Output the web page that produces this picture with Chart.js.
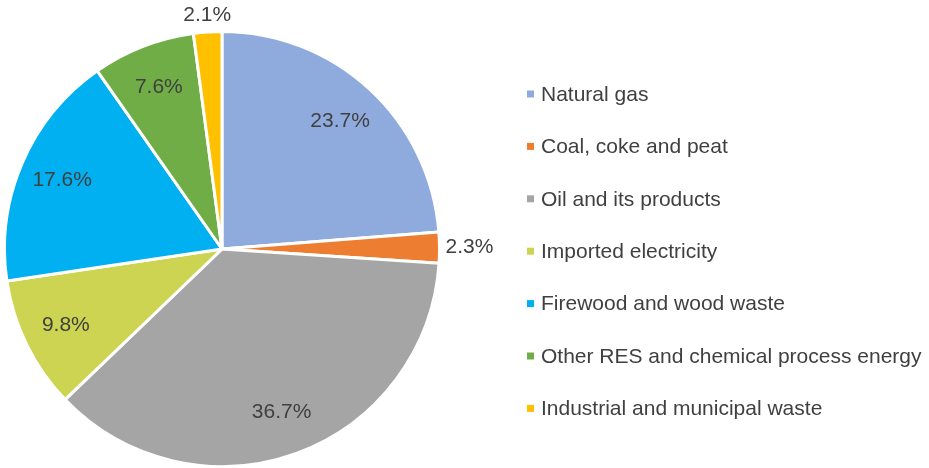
<!DOCTYPE html>
<html>
<head>
<meta charset="utf-8">
<script src="https://cdn.jsdelivr.net/npm/chart.js@4.4.1/dist/chart.umd.min.js"></script>
<style>
  html, body { margin: 0; padding: 0; background: #fff; }
  #wrap { width: 929px; height: 468px; position: relative; }
</style>
</head>
<body>
<div id="wrap"><canvas id="chart" width="929" height="468"></canvas></div>
<script>
// Energy consumption by source, share in percent
const categories = [
  'Natural gas',
  'Coal, coke and peat',
  'Oil and its products',
  'Imported electricity',
  'Firewood and wood waste',
  'Other RES and chemical process energy',
  'Industrial and municipal waste'
];
const shares = [23.7, 2.3, 36.7, 9.8, 17.6, 7.6, 2.1];
const colors = ['#8FAADC', '#ED7D31', '#A5A5A5', '#CDD451', '#00B0F0', '#70AD47', '#FFC000'];

const FONT = '"Liberation Sans", Arial, sans-serif';
const TEXT_COLOR = '#404040';

// slice labels: inside for big slices, outside for the thin ones
const sliceLabels = {
  id: 'sliceLabels',
  afterDatasetsDraw(chart) {
    const ctx = chart.ctx;
    const meta = chart.getDatasetMeta(0);
    ctx.save();
    ctx.font = '21px ' + FONT;
    ctx.fillStyle = TEXT_COLOR;
    meta.data.forEach((arc, i) => {
      const mid = (arc.startAngle + arc.endAngle) / 2;
      const cos = Math.cos(mid), sin = Math.sin(mid);
      const text = shares[i].toFixed(1) + '%';
      if (shares[i] >= 5) {
        const r = arc.outerRadius * 0.8;
        ctx.textAlign = 'center';
        ctx.textBaseline = 'middle';
        ctx.fillText(text, arc.x + cos * r, arc.y + sin * r);
      } else {
        const r = arc.outerRadius + 6;
        const px = arc.x + cos * r, py = arc.y + sin * r;
        if (Math.abs(cos) > 0.5) {
          ctx.textAlign = cos > 0 ? 'left' : 'right';
          ctx.textBaseline = 'middle';
        } else {
          ctx.textAlign = 'center';
          ctx.textBaseline = sin < 0 ? 'bottom' : 'top';
        }
        ctx.fillText(text, px, py);
      }
    });
    ctx.restore();
  }
};

// legend drawn by hand to the right of the pie
const sideLegend = {
  id: 'sideLegend',
  afterDraw(chart) {
    const ctx = chart.ctx;
    ctx.save();
    ctx.font = '21px ' + FONT;
    ctx.textAlign = 'left';
    ctx.textBaseline = 'middle';
    categories.forEach((name, i) => {
      const y = 94 + i * 52.4;
      ctx.fillStyle = colors[i];
      ctx.fillRect(527, y - 3.5, 7, 7);
      ctx.fillStyle = TEXT_COLOR;
      ctx.fillText(name, 541, y + 1);
    });
    ctx.restore();
  }
};

new Chart(document.getElementById('chart'), {
  type: 'pie',
  data: {
    labels: categories,
    datasets: [{
      data: shares,
      backgroundColor: colors,
      borderColor: '#ffffff',
      borderWidth: 3
    }]
  },
  options: {
    responsive: false,
    animation: false,
    layout: { padding: { left: 2, right: 487, top: 30, bottom: 0 } },
    plugins: {
      legend: { display: false },
      tooltip: { enabled: false }
    }
  },
  plugins: [sliceLabels, sideLegend]
});
</script>
</body>
</html>
